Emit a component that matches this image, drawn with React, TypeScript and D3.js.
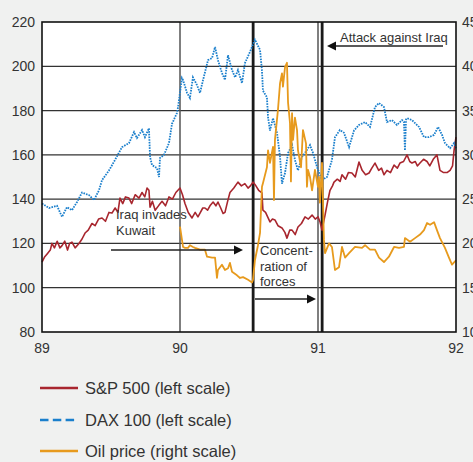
import React from "react";
import * as d3 from "d3";

// ---- Data (decimal years, values) ----
const spDates = [89.0,89.02,89.04,89.06,89.072,89.09,89.11,89.13,89.145,89.165,89.185,89.2,89.217,89.24,89.268,89.29,89.312,89.335,89.362,89.385,89.41,89.435,89.46,89.485,89.507,89.53,89.55,89.565,89.585,89.605,89.63,89.65,89.675,89.703,89.725,89.745,89.761,89.775,89.783,89.8,89.82,89.848,89.87,89.895,89.92,89.945,89.97,90.0,90.018,90.036,90.06,90.087,90.11,90.13,90.145,90.165,90.181,90.2,90.217,90.24,90.26,90.275,90.295,90.312,90.326,90.345,90.362,90.39,90.42,90.445,90.47,90.493,90.51,90.529,90.55,90.57,90.594,90.601,90.62,90.652,90.67,90.688,90.71,90.739,90.76,90.775,90.795,90.812,90.835,90.855,90.88,90.906,90.93,90.957,90.98,91.0,91.015,91.029,91.051,91.07,91.087,91.105,91.116,91.14,91.16,91.174,91.2,91.22,91.246,91.27,91.297,91.32,91.345,91.37,91.39,91.413,91.44,91.46,91.478,91.5,91.525,91.551,91.575,91.594,91.62,91.645,91.665,91.681,91.705,91.72,91.739,91.765,91.79,91.81,91.835,91.862,91.884,91.91,91.935,91.957,91.975,91.986,92.0];
const spValues = [111.6,114,115.5,117,120,118,121,118,119,121,117,120,120.6,118,120,122,124.7,126,129,128,131,131.5,130,134,133.7,136,134,140.5,138,141,140.5,138,142,140.5,143,141,145,144,136.4,139,135,137.3,139,137,141,140,143,145,142,138,134,131.5,134,132,133.7,136,136,135,137,138.7,137,138.7,136,133.5,134,139,143,145,147.7,146,147,145,146,147.7,146,144,142.8,135,134,129.7,131,130.6,128,127,125,122.4,126,126,124,127.4,129,132,131,132.8,131,132,129.7,126,132.8,139,144,146,147.7,149,148,151,149,152,151.8,150,156.8,153,151,151.8,154,156.3,153,154,151,153,152,155.4,154,156.3,157,160,157,156.3,157,155,156.3,158,157,155,158,160,153,152,152,153,155,162,168];

const daxDates = [89.0,89.051,89.109,89.145,89.181,89.217,89.254,89.29,89.341,89.377,89.413,89.435,89.486,89.529,89.58,89.63,89.667,89.688,89.725,89.746,89.775,89.783,89.797,89.833,89.848,89.855,89.884,89.92,89.942,89.978,89.986,90.014,90.022,90.051,90.072,90.094,90.123,90.145,90.167,90.203,90.232,90.254,90.275,90.304,90.326,90.348,90.377,90.399,90.42,90.449,90.471,90.507,90.543,90.58,90.594,90.601,90.63,90.638,90.652,90.674,90.703,90.725,90.739,90.761,90.783,90.812,90.833,90.855,90.884,90.92,90.942,90.964,90.993,91.029,91.065,91.101,91.123,91.159,91.188,91.225,91.261,91.297,91.341,91.377,91.413,91.442,91.478,91.5,91.536,91.572,91.609,91.623,91.63,91.638,91.645,91.681,91.732,91.768,91.804,91.841,91.87,91.899,91.92,91.957,91.986,92.0];
const daxValues = [138,136,137,132,136.4,135,138.7,143,141.8,139.6,144,148.6,153,157.7,163.5,165.3,170.3,167.6,171.2,168,172,159,155.4,154,150,158.6,160,165.3,174,178.9,181.6,194.7,193.8,188,185.7,195,191.5,188,193.8,202.8,203.7,208.7,202.8,197,193.8,205,198.3,195,198.3,192.4,201.5,206.5,212,207.4,198,189,186,177,171,176.6,170,159,147,151.8,160.8,164.4,157.7,153,159,162.2,164.4,160.8,154.5,148.6,150,157.7,168,171.2,170,163.5,171,173.5,174.8,172.6,181.6,183.4,181.6,174.8,175.7,173.5,175.7,175,162,176,176.6,175.7,172.6,168,168,169,172.6,169,165.3,163,165.3,163];

const oilDates = [90.0,90.022,90.036,90.058,90.072,90.094,90.109,90.145,90.181,90.196,90.232,90.254,90.268,90.275,90.304,90.326,90.348,90.362,90.377,90.413,90.435,90.457,90.493,90.522,90.529,90.543,90.565,90.58,90.594,90.601,90.63,90.638,90.652,90.674,90.681,90.688,90.71,90.725,90.739,90.746,90.761,90.775,90.783,90.797,90.804,90.812,90.819,90.833,90.848,90.855,90.877,90.891,90.913,90.92,90.928,90.942,90.957,90.978,91.0,91.007,91.014,91.029,91.043,91.051,91.08,91.101,91.123,91.152,91.174,91.196,91.225,91.268,91.319,91.341,91.377,91.413,91.442,91.478,91.514,91.551,91.587,91.623,91.63,91.667,91.703,91.739,91.768,91.79,91.812,91.841,91.862,91.884,91.92,91.949,91.971,92.0];
const oilValues = [21.9,19.6,19.5,19.5,19.8,19.6,19.5,19.3,19.3,18.5,18.4,18.4,16.1,17,17.6,17,17.2,17.8,16.8,16.4,16.1,16.2,15.9,15.6,15.9,18.1,19.8,21.2,26.4,26.8,28.6,30.5,29.1,30.9,24.9,31.7,35.1,38.1,39.2,37.7,39.9,40.4,35.9,33.6,27,34.7,31.7,34.2,32.8,30.5,28.6,32.8,31.3,26.4,28.3,27.5,26,28.3,26.4,27.5,24.6,29.1,20.4,18.9,20,19.6,17,17.3,19.6,18.4,18.9,19.6,19.5,19.8,19.3,19.3,18.4,17.9,18.5,19.6,19.5,19.6,20.6,20.2,20.6,21,21.5,22.3,22.1,22.4,21.5,20.6,19.5,18.4,17.6,18.1];

const xTicks = [89, 90, 91, 92];
const xTickLabels = ["89", "90", "91", "92"];
const leftTicks = [80, 100, 120, 140, 160, 180, 200, 220];
const rightTicks = [10, 15, 20, 25, 30, 35, 40, 45];
const eventDates = [90.53, 91.03];

const legendItems = [
  { label: "S&P 500 (left scale)", key: "sp" },
  { label: "DAX 100 (left scale)", key: "dax" },
  { label: "Oil price (right scale)", key: "oil" },
];

const COLORS = { sp: "#a8262e", dax: "#1a7fcc", oil: "#e79a1d" };
const FONT = "'Liberation Sans', Arial, sans-serif";

export default function App() {
  const W = 473, H = 462;
  const L = 42, R = 456, T = 22, B = 332;
  const x = d3.scaleLinear().domain([89, 92]).range([L, R]);
  const yL = d3.scaleLinear().domain([80, 220]).range([B, T]);
  const yR = d3.scaleLinear().domain([10, 45]).range([B, T]);

  const lineL = (dates: number[], vals: number[]) =>
    d3.line<number>().x((_, i) => x(dates[i])).y((v) => yL(v))(vals) || "";
  const lineR = (dates: number[], vals: number[]) =>
    d3.line<number>().x((_, i) => x(dates[i])).y((v) => yR(v))(vals) || "";

  const arrow = (x1: number, x2: number, y: number) => {
    const dir = x2 > x1 ? 1 : -1;
    const hx = x2 - dir * 9;
    return (
      <g>
        <line x1={x1} x2={hx} y1={y} y2={y} stroke="#222" strokeWidth={1.3} />
        <path d={`M${x2},${y} L${hx},${y - 4.5} L${hx},${y + 4.5} Z`} fill="#111" />
      </g>
    );
  };

  return (
    <svg width={W} height={H} style={{ position: "absolute", left: 0, top: 0 }} fontFamily={FONT}>
      <rect x={0} y={0} width={W} height={H} fill="#f0f1f0" />
      <rect x={L} y={T} width={R - L} height={B - T} fill="#ffffff" />
      {/* horizontal grid */}
      {leftTicks.slice(1, -1).map((t) => (
        <line key={t} x1={L} x2={R} y1={yL(t)} y2={yL(t)} stroke="#333" strokeWidth={1.2} />
      ))}
      {/* vertical year grid */}
      {xTicks.slice(1, -1).map((t) => (
        <line key={t} x1={x(t)} x2={x(t)} y1={T} y2={B} stroke="#555" strokeWidth={1.5} />
      ))}
      {/* event lines */}
      {eventDates.map((t) => (
        <line key={t} x1={x(t)} x2={x(t)} y1={T} y2={B} stroke="#1a1a1a" strokeWidth={2.8} />
      ))}
      {/* series */}
      <path d={lineL(spDates, spValues)} fill="none" stroke={COLORS.sp} strokeWidth={1.6} strokeLinejoin="round" />
      <path d={lineL(daxDates, daxValues)} fill="none" stroke={COLORS.dax} strokeWidth={1.8} strokeDasharray="1.6 1.1" />
      <path d={lineR(oilDates, oilValues)} fill="none" stroke={COLORS.oil} strokeWidth={1.8} strokeLinejoin="round" />
      {/* frame */}
      <rect x={L} y={T} width={R - L} height={B - T} fill="none" stroke="#111" strokeWidth={1.6} />
      {/* left ticks */}
      {leftTicks.map((t) => (
        <text key={t} x={35} y={yL(t)} dy="0.36em" textAnchor="end" fontSize={14} fill="#333">{t}</text>
      ))}
      {/* right ticks */}
      {rightTicks.map((t) => (
        <text key={t} x={462} y={yR(t)} dy="0.36em" textAnchor="start" fontSize={14} fill="#333">{t}</text>
      ))}
      {/* x ticks */}
      {xTicks.map((t, i) => (
        <text key={t} x={x(t)} y={353} textAnchor="middle" fontSize={14} fill="#333">{xTickLabels[i]}</text>
      ))}
      {/* annotations */}
      <text x={116} y={219} fontSize={13} fill="#333">Iraq invades</text>
      <text x={116} y={235} fontSize={13} fill="#333">Kuwait</text>
      {arrow(111, 243, 250)}
      <text x={260} y={255} fontSize={13} fill="#333">Concent-</text>
      <text x={260} y={270.5} fontSize={13} fill="#333">ration of</text>
      <text x={260} y={286} fontSize={13} fill="#333">forces</text>
      {arrow(255, 316, 299)}
      <text x={340} y={42} fontSize={13} fill="#333">Attack against Iraq</text>
      {arrow(443, 327, 46)}
      {/* legend */}
      {legendItems.map((it, i) => {
        const ly = [388, 420, 451][i];
        const c = (COLORS as any)[it.key];
        return (
          <g key={it.key}>
            <line x1={40} x2={78} y1={ly} y2={ly} stroke={c} strokeWidth={2.6}
              strokeDasharray={it.key === "dax" ? "8.5 4.3" : undefined} />
            <text x={85} y={ly + 6} fontSize={16.5} fill="#333">{it.label}</text>
          </g>
        );
      })}
    </svg>
  );
}
